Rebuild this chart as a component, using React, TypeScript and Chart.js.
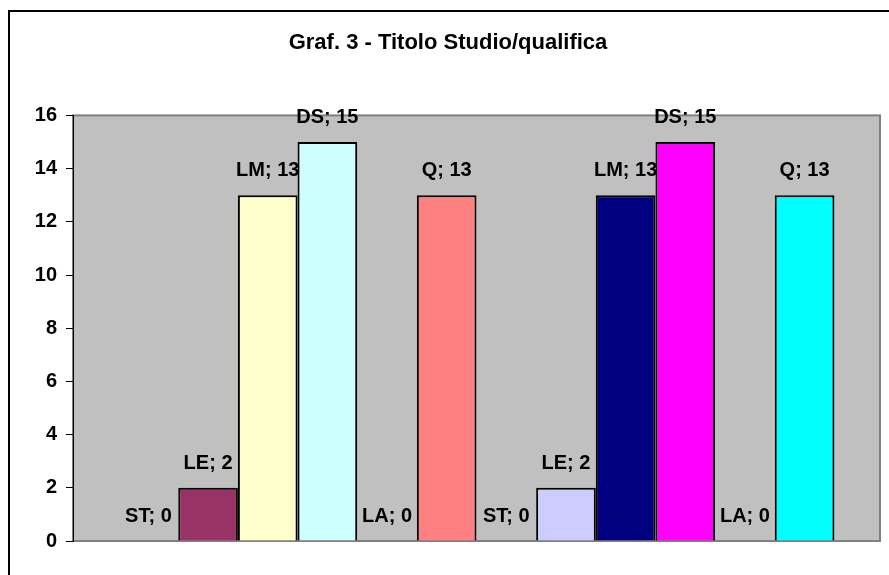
import React, { useEffect, useRef } from "react";
import { Chart, registerables } from "chart.js";

Chart.register(...registerables);

const categories = [""];
const seriesNames = ["ST", "LE", "LM", "DS", "LA", "Q"];
const valuesGroupA = [0, 2, 13, 15, 0, 13];
const valuesGroupB = [0, 2, 13, 15, 0, 13];
const colorsGroupA = ["#9999FF", "#993366", "#FFFFCC", "#CCFFFF", "#660066", "#FF8080"];
const colorsGroupB = ["#0066CC", "#CCCCFF", "#000080", "#FF00FF", "#FFFF00", "#00FFFF"];
const titleText = "Graf. 3 - Titolo Studio/qualifica";
const yMin = 0;
const yMax = 16;
const yStep = 2;

const FONT = "'Liberation Sans', Arial, sans-serif";

const framePlugin = {
  id: "frameBg",
  beforeDraw(chart: any) {
    const { ctx, chartArea } = chart;
    ctx.save();
    ctx.fillStyle = "#FFFFFF";
    ctx.fillRect(0, 0, chart.width, chart.height);
    ctx.strokeStyle = "#000000";
    ctx.lineWidth = 2;
    ctx.strokeRect(9, 11, chart.width + 50, chart.height + 50);
    ctx.fillStyle = "#C0C0C0";
    ctx.fillRect(chartArea.left, chartArea.top, chartArea.right - chartArea.left, chartArea.bottom - chartArea.top);
    ctx.strokeStyle = "#808080";
    ctx.lineWidth = 2;
    ctx.strokeRect(chartArea.left, chartArea.top, chartArea.right - chartArea.left, chartArea.bottom - chartArea.top);
    ctx.restore();
  },
};

const labelPlugin = {
  id: "barLabels",
  afterDatasetsDraw(chart: any) {
    const { ctx } = chart;
    ctx.save();
    ctx.font = `bold 20px ${FONT}`;
    ctx.fillStyle = "#000000";
    ctx.textAlign = "center";
    ctx.textBaseline = "alphabetic";
    chart.data.datasets.forEach((ds: any, i: number) => {
      const meta = chart.getDatasetMeta(i);
      meta.data.forEach((el: any, j: number) => {
        const v = ds.data[j];
        ctx.fillText(`${ds.label}; ${v}`, el.x, el.y - 19);
      });
    });
    ctx.restore();
  },
};

export default function App() {
  const ref = useRef<HTMLCanvasElement>(null);
  useEffect(() => {
    if (!ref.current) return;
    const datasets: any[] = [];
    const groups = [
      { values: valuesGroupA, colors: colorsGroupA },
      { values: valuesGroupB, colors: colorsGroupB },
    ];
    groups.forEach((g) => {
      seriesNames.forEach((name, i) => {
        datasets.push({
          label: name,
          data: [g.values[i]],
          backgroundColor: g.colors[i],
          borderColor: "#000000",
          borderWidth: 2,
          categoryPercentage: 0.887,
          barPercentage: 1,
        });
      });
    });
    const chart = new Chart(ref.current, {
      type: "bar",
      data: { labels: categories, datasets },
      options: {
        responsive: false,
        animation: false,
        devicePixelRatio: 1,
        layout: { padding: { left: 16, right: 9, top: 0, bottom: 34 } },
        plugins: {
          legend: { display: false },
          tooltip: { enabled: false },
          title: {
            display: true,
            text: titleText,
            color: "#000000",
            font: { family: FONT, size: 22, weight: "bold" },
            padding: { top: 30, bottom: 59 },
          },
        },
        scales: {
          x: {
            display: false,
            grid: { display: false },
          },
          y: {
            min: yMin,
            max: yMax,
            ticks: {
              stepSize: yStep,
              color: "#000000",
              font: { family: FONT, size: 20, weight: "bold" },
              padding: 9,
            },
            grid: {
              drawOnChartArea: false,
              drawTicks: true,
              tickLength: 7,
              color: "#000000",
            },
            border: { display: true, color: "#000000", width: 1 },
            afterFit(scale: any) {
              scale.width = 57;
            },
          },
        },
      },
      plugins: [framePlugin, labelPlugin],
    });
    return () => chart.destroy();
  }, []);
  return (
    <div style={{ position: "fixed", left: 0, top: 0, width: 889, height: 575, background: "#fff" }}>
      <canvas ref={ref} width={889} height={575} style={{ display: "block" }} />
    </div>
  );
}
